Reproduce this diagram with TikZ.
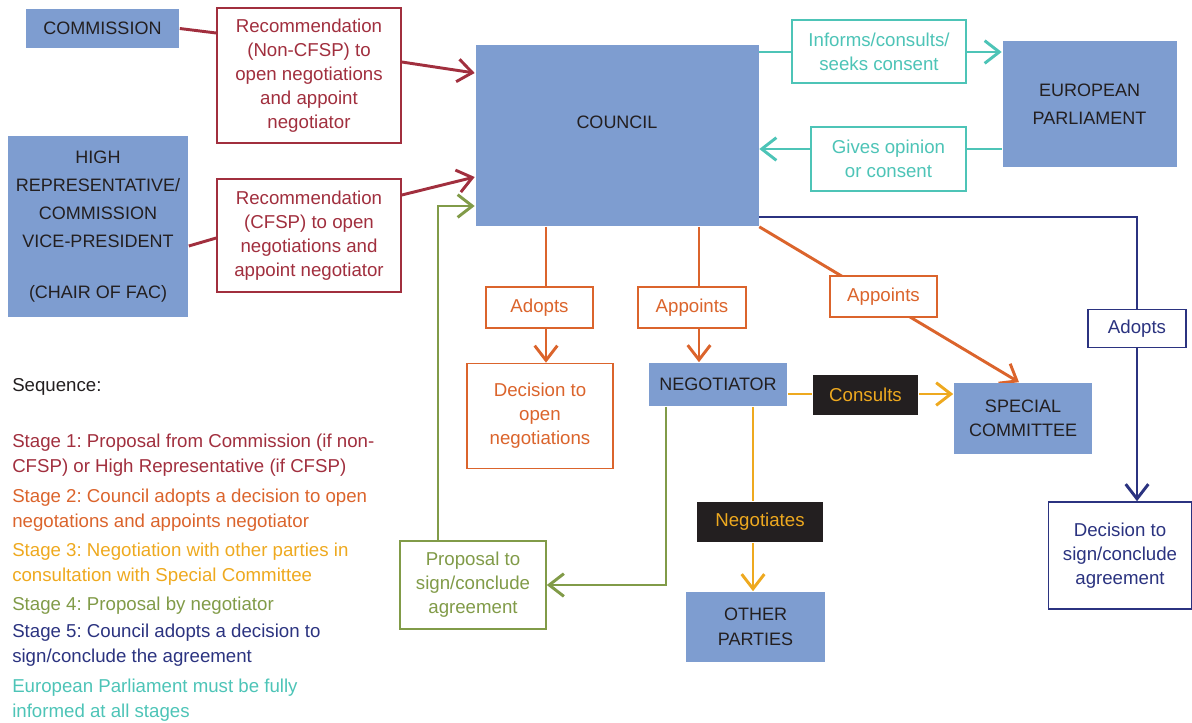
\documentclass[tikz,border=0pt]{standalone}
\usepackage{fontspec}
\setmainfont{Liberation Sans}
\usepackage{tikz}
\usetikzlibrary{arrows.meta, positioning, calc, backgrounds}
\frenchspacing
\definecolor{boxblue}{HTML}{7E9DD0}
\definecolor{txtdark}{HTML}{231F20}
\definecolor{stred}{HTML}{A12F3E}
\definecolor{storange}{HTML}{DB642C}
\definecolor{styellow}{HTML}{EEA91F}
\definecolor{stgreen}{HTML}{819B48}
\definecolor{stnavy}{HTML}{2B3380}
\definecolor{stteal}{HTML}{4DC4B7}
\tikzset{
    base/.style={line width=1.2pt, font=\fontsize{14}{18}\selectfont, align=center, inner sep=2pt},
    wh/.style 2 args={minimum width=#1*0.75pt, minimum height=#2*0.75pt},
    block/.style={base, rectangle, fill=boxblue, text=txtdark, font=\fontsize{13.5}{21}\selectfont},
    outbox/.style={base, rectangle, fill=white, draw=#1, text=#1},
    darkbox/.style={base, rectangle, fill=txtdark, text=styellow},
    legend/.style={anchor=west, align=left, inner sep=0pt, font=\fontsize{14}{18.7}\selectfont},
    plain-line/.style={draw=#1, line width=2.2pt},
    line/.style={draw=#1, line width=2.2pt, -{Straight Barb[length=11pt, width=17pt]}}
}
\begin{document}
\begin{tikzpicture}[x=0.75pt, y=-0.75pt]
    \useasboundingbox (0,0) rectangle (1192,722);

    % actors
    \node [block, wh={153}{39}] (commission) at (102.5,28.5) {COMMISSION};
    \node [block, wh={180}{181}] (hrvp) at (98,226.5) {HIGH\\REPRESENTATIVE/\\COMMISSION\\VICE-PRESIDENT\\[17pt](CHAIR OF FAC)};
    \node [block, wh={283}{181}] (council) at (617,135.5) {COUNCIL\\[-1.5pt]~};
    \node [block, wh={174}{126}] (ep) at (1089.5,104) {EUROPEAN\\PARLIAMENT};
    \node [block, wh={138}{43}] (negotiator) at (718,384.5) {NEGOTIATOR};
    \node [block, wh={138}{71}, font=\fontsize{13.5}{18}\selectfont] (special) at (1023,418.5) {SPECIAL\\COMMITTEE};
    \node [block, wh={139}{70}, font=\fontsize{13.5}{18.5}\selectfont] (others) at (755.5,627) {OTHER\\PARTIES};

    % stage 1
    \node [outbox=stred, wh={184}{135}] (rec1) at (309,75.5) {Recommendation\\(Non-CFSP) to\\open negotiations\\and appoint\\negotiator};
    \node [outbox=stred, wh={184}{113}] (rec2) at (309,235.5) {Recommendation\\(CFSP) to open\\negotiations and\\appoint negotiator};

    % stage 2
    \node [outbox=storange, wh={107}{41}] (adopts1) at (539.5,307.5) {Adopts};
    \node [outbox=storange, wh={108}{41}] (appoints1) at (692,307.5) {Appoints};
    \node [outbox=storange, wh={107}{41}] (appoints2) at (883.5,296.5) {Appoints};
    \node [outbox=storange, wh={146}{105}] (decopen) at (540,416) {Decision to\\open\\negotiations};

    % stage 3
    \node [darkbox, wh={105}{40}] (consults) at (865.5,395) {Consults};
    \node [darkbox, wh={126}{40}] (negotiates) at (760,522) {Negotiates};

    % stage 4
    \node [outbox=stgreen, wh={146}{88}] (proposal) at (473,585) {Proposal to\\sign/conclude\\agreement};

    % stage 5
    \node [outbox=stnavy, wh={98}{38}] (adopts2) at (1137,328.5) {Adopts};
    \node [outbox=stnavy, wh={143}{107}] (decsign) at (1120,555.5) {Decision to\\sign/conclude\\agreement};

    % parliament
    \node [outbox=stteal, wh={174}{63}] (informs) at (879,51.5) {Informs/consults/\\seeks consent};
    \node [outbox=stteal, wh={155}{64}] (gives) at (888.5,159) {Gives opinion\\or consent};

    % legend
    \node [legend, text=txtdark] (seq) at (12,387) {Sequence:};
    \node [legend, text=stred] (leg1) at (12,455.5) {Stage 1: Proposal from Commission (if non-\\CFSP) or High Representative (if CFSP)};
    \node [legend, text=storange] (leg2) at (12,510) {Stage 2: Council adopts a decision to open\\negotations and appoints negotiator};
    \node [legend, text=styellow] (leg3) at (12,564) {Stage 3: Negotiation with other parties in\\consultation with Special Committee};
    \node [legend, text=stgreen] (leg4) at (12,605.5) {Stage 4: Proposal by negotiator};
    \node [legend, text=stnavy] (leg5) at (12,645.5) {Stage 5: Council adopts a decision to\\sign/conclude the agreement};
    \node [legend, text=stteal] (leg6) at (12,700) {European Parliament must be fully\\informed at all stages};

    \coordinate (xa) at (546,0);
    \coordinate (xb) at (699,0);
    \coordinate (xy) at (753,0);
    \coordinate (xg1) at (666,0);
    \coordinate (xg2) at (438,0);
    \coordinate (yg) at (0,206);
    \coordinate (yn) at (0,217);
    \coordinate (yt1) at (0,52);
    \coordinate (yt2) at (0,149);
    \coordinate (yc) at (0,394);

    \begin{scope}[on background layer]
        \path [plain-line=stred] (commission.east) -- ($(rec1.west)+(0,-42.5)$);
        \path [line=stred] ($(rec1.east)+(0,-13.5)$) -- ($(council.west)+(0,-62.5)$);
        \path [plain-line=stred] ($(hrvp.east)+(0,19.5)$) -- ($(rec2.west)+(0,2.5)$);
        \path [line=stred] ($(rec2.east)+(0,-40.5)$) -- ($(council.west)+(0,41.5)$);

        \path [plain-line=storange] (council.south -| xa) -- (adopts1.north -| xa);
        \path [line=storange] (adopts1.south -| xa) -- (decopen.north -| xa);
        \path [plain-line=storange] (council.south -| xb) -- (appoints1.north -| xb);
        \path [line=storange] (appoints1.south -| xb) -- (negotiator.north -| xb);
        \path [line=storange] (council.south east) -- ($(special.north)+(-4,0)$);

        \path [plain-line=styellow] (negotiator.east |- yc) -- (consults.west |- yc);
        \path [line=styellow] (consults.east |- yc) -- (special.west |- yc);
        \path [plain-line=styellow] (negotiator.south -| xy) -- (negotiates.north -| xy);
        \path [line=styellow] (negotiates.south -| xy) -- (others.north -| xy);

        \path [line=stgreen] (negotiator.south -| xg1) |- (proposal.east);
        \path [line=stgreen] (proposal.north -| xg2) |- (council.west |- yg);

        \path [plain-line=stnavy] (council.east |- yn) -| (adopts2.north);
        \path [line=stnavy] (adopts2.south) -- (decsign.north -| adopts2);

        \path [plain-line=stteal] (council.east |- yt1) -- (informs.west |- yt1);
        \path [line=stteal] (informs.east |- yt1) -- (ep.west |- yt1);
        \path [plain-line=stteal] (ep.west |- yt2) -- (gives.east |- yt2);
        \path [line=stteal] (gives.west |- yt2) -- (council.east |- yt2);
    \end{scope}
\end{tikzpicture}
\end{document}
